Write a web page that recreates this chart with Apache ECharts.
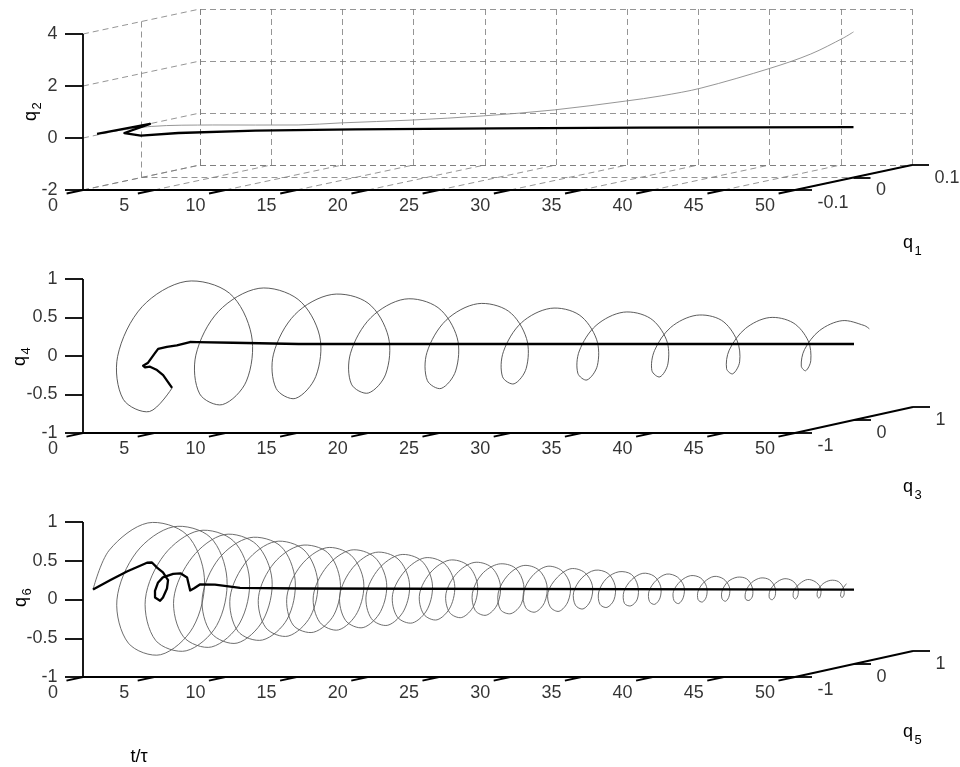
<!DOCTYPE html>
<html>
<head>
<meta charset="utf-8">
<script src="https://cdn.jsdelivr.net/npm/echarts@6/dist/echarts.min.js"></script>
<style>
html, body { margin: 0; background: #fff; }
#chart { width: 960px; height: 767px; }
</style>
</head>
<body>
<div id="chart"></div>
<script>
// tick values
const tTicks = [0, 5, 10, 15, 20, 25, 30, 35, 40, 45, 50];
const q1Ticks = [-0.1, 0, 0.1];
const q2Ticks = [-2, 0, 2, 4];
const q3Ticks = [-1, 0, 1];
const q4Ticks = [-1, -0.5, 0, 0.5, 1];
const q5Ticks = [-1, 0, 1];
const q6Ticks = [-1, -0.5, 0, 0.5, 1];

// curves, rows are [t, q_odd, q_even]
const q12Controlled = [
  [0, -0.076, 0.04], [0.6, 0, 0.06], [1.1, -0.056, -0.02], [1.6, -0.04, -0.2], [3, -0.01, -0.24],
  [8, 0, -0.2], [15, 0, -0.15], [25, 0, -0.11], [35, 0, -0.08], [50, 0, -0.06]
];
const q12Free = [
  [0, -0.076, 0.04], [1.5, -0.02, 0.06], [5, 0, 0.02], [11, 0, 0.02], [14, 0, 0.1], [19, 0, 0.21],
  [24, 0, 0.37], [29, 0, 0.6], [34, 0, 0.94], [36.5, 0, 1.14], [39.3, 0, 1.44], [44.2, 0, 2.21],
  [47, 0, 2.75], [49.3, 0, 3.37], [50, 0, 3.6]
];
const q34Controlled = [
  [0, 0.51, -0.67], [0.2, 0.31, -0.47], [0.35, 0.17, -0.38], [0.5, 0.015, -0.31], [0.6, -0.093, -0.3],
  [0.7, -0.15, -0.27], [0.8, -0.09, -0.24], [0.95, -0.01, -0.13], [1.05, 0.02, -0.08], [1.5, 0.06, -0.06],
  [2.2, 0.06, -0.04], [3.2, 0.04, 0.006], [3.8, 0.015, 0.01], [6.3, 0.02, 0], [11, 0, -0.013], [50, 0, -0.013]
];
const q34Free = [
  [0, 0.51, -0.67],
  [0.53, 0, -0.89], [1.17, -0.60, -0.63], [1.81, -0.85, -0.03], [2.45, -0.59, 0.57], [3.09, 0, 0.80], [3.73, 0.58, 0.55], [4.37, 0.80, -0.03], [5.01, 0.56, -0.59],
  [5.65, 0, -0.80], [6.29, -0.54, -0.57], [6.93, -0.76, -0.03], [7.57, -0.53, 0.50], [8.21, 0, 0.71], [8.85, 0.51, 0.48], [9.49, 0.72, -0.03], [10.13, 0.50, -0.52],
  [10.77, 0, -0.72], [11.41, -0.48, -0.51], [12.05, -0.68, -0.03], [12.69, -0.47, 0.45], [13.33, 0, 0.63], [13.97, 0.46, 0.44], [14.61, 0.65, -0.03], [15.25, 0.45, -0.48],
  [15.89, 0, -0.65], [16.53, -0.44, -0.46], [17.17, -0.61, -0.03], [17.81, -0.42, 0.40], [18.45, 0, 0.57], [19.09, 0.41, 0.39], [19.73, 0.58, -0.03], [20.37, 0.40, -0.43],
  [21.01, 0, -0.59], [21.65, -0.39, -0.42], [22.29, -0.55, -0.03], [22.93, -0.38, 0.36], [23.57, 0, 0.51], [24.21, 0.37, 0.35], [24.85, 0.52, -0.03], [25.49, 0.36, -0.39],
  [26.13, 0, -0.53], [26.77, -0.35, -0.38], [27.41, -0.49, -0.03], [28.05, -0.34, 0.32], [28.69, 0, 0.45], [29.33, 0.33, 0.31], [29.97, 0.47, -0.03], [30.61, 0.33, -0.35],
  [31.25, 0, -0.48], [31.89, -0.31, -0.34], [32.53, -0.44, -0.03], [33.17, -0.31, 0.28], [33.81, 0, 0.40], [34.45, 0.30, 0.27], [35.09, 0.42, -0.03], [35.73, 0.29, -0.32],
  [36.37, 0, -0.44], [37.01, -0.29, -0.31], [37.65, -0.40, -0.03], [38.29, -0.28, 0.25], [38.93, 0, 0.36], [39.57, 0.27, 0.25], [40.21, 0.38, -0.03], [40.85, 0.27, -0.29],
  [41.49, 0, -0.40], [42.13, -0.26, -0.29], [42.77, -0.37, -0.03], [43.41, -0.25, 0.23], [44.05, 0, 0.33], [44.69, 0.25, 0.22], [45.33, 0.35, -0.03], [45.97, 0.24, -0.27],
  [46.61, 0, -0.36], [47.25, -0.23, -0.26], [47.89, -0.33, -0.03], [48.53, -0.23, 0.20], [49.17, 0, 0.29], [49.81, 0.22, 0.19], [50, 0.26, 0.14]
];
const q56Controlled = [
  [0, -0.83, 0.1], [0.24, -0.6, 0.18], [0.6, -0.4, 0.26], [1.18, -0.2, 0.34], [1.32, -0.15, 0.335],
  [1.47, -0.1, 0.26], [1.68, -0.05, 0.19], [1.8, 0.007, 0.08], [1.9, -0.035, -0.02], [2.0, -0.127, -0.12],
  [2.1, -0.2, -0.15], [2.2, -0.31, -0.09], [2.3, -0.335, 0], [2.4, -0.31, 0.1], [2.5, -0.25, 0.16],
  [2.6, -0.1, 0.18], [2.7, 0, 0.17], [3.0, 0.04, 0.11], [3.3, 0.02, -0.055], [3.5, 0.04, -0.03],
  [3.9, 0.04, 0.02], [5, 0.03, 0.02], [6.8, 0.02, -0.02], [11.1, 0, -0.026], [50, 0, -0.04]
];
const q56Free = [
  [0, -0.83, 0.10],
  [0.19, -0.60, 0.57], [0.41, 0, 0.82], [0.64, 0.60, 0.57], [0.86, 0.85, -0.03], [1.09, 0.60, -0.63], [1.31, 0, -0.88], [1.53, -0.60, -0.63], [1.76, -0.85, -0.03],
  [1.98, -0.57, 0.54], [2.20, 0, 0.77], [2.43, 0.57, 0.54], [2.65, 0.80, -0.03], [2.88, 0.57, -0.60], [3.10, 0, -0.83], [3.32, -0.57, -0.60], [3.55, -0.80, -0.03],
  [3.77, -0.53, 0.50], [3.99, 0, 0.72], [4.22, 0.53, 0.50], [4.44, 0.75, -0.03], [4.67, 0.53, -0.56], [4.89, 0, -0.78], [5.11, -0.53, -0.56], [5.34, -0.75, -0.03],
  [5.56, -0.49, 0.46], [5.78, 0, 0.67], [6.01, 0.49, 0.46], [6.23, 0.70, -0.03], [6.46, 0.49, -0.52], [6.68, 0, -0.73], [6.90, -0.49, -0.52], [7.13, -0.70, -0.03],
  [7.35, -0.47, 0.44], [7.57, 0, 0.63], [7.80, 0.47, 0.44], [8.02, 0.66, -0.03], [8.25, 0.47, -0.50], [8.47, 0, -0.69], [8.69, -0.47, -0.50], [8.92, -0.66, -0.03],
  [9.14, -0.43, 0.40], [9.36, 0, 0.58], [9.59, 0.43, 0.40], [9.81, 0.61, -0.03], [10.04, 0.43, -0.46], [10.26, 0, -0.64], [10.48, -0.43, -0.46], [10.71, -0.61, -0.03],
  [10.93, -0.40, 0.37], [11.15, 0, 0.53], [11.38, 0.40, 0.37], [11.60, 0.56, -0.03], [11.83, 0.40, -0.43], [12.05, 0, -0.59], [12.27, -0.40, -0.43], [12.50, -0.56, -0.03],
  [12.72, -0.37, 0.34], [12.94, 0, 0.50], [13.15, 0.37, 0.34], [13.37, 0.53, -0.03], [13.58, 0.37, -0.40], [13.80, 0, -0.56], [14.02, -0.37, -0.40], [14.23, -0.53, -0.03],
  [14.45, -0.35, 0.32], [14.67, 0, 0.47], [14.88, 0.35, 0.32], [15.10, 0.50, -0.03], [15.31, 0.35, -0.38], [15.53, 0, -0.53], [15.75, -0.35, -0.38], [15.96, -0.50, -0.03],
  [16.18, -0.33, 0.30], [16.40, 0, 0.44], [16.61, 0.33, 0.30], [16.83, 0.47, -0.03], [17.04, 0.33, -0.36], [17.26, 0, -0.50], [17.48, -0.33, -0.36], [17.69, -0.47, -0.03],
  [17.91, -0.31, 0.28], [18.13, 0, 0.41], [18.34, 0.31, 0.28], [18.56, 0.44, -0.03], [18.77, 0.31, -0.34], [18.99, 0, -0.47], [19.21, -0.31, -0.34], [19.42, -0.44, -0.03],
  [19.64, -0.28, 0.25], [19.86, 0, 0.37], [20.07, 0.28, 0.25], [20.29, 0.40, -0.03], [20.50, 0.28, -0.31], [20.72, 0, -0.43], [20.94, -0.28, -0.31], [21.15, -0.40, -0.03],
  [21.37, -0.26, 0.23], [21.59, 0, 0.34], [21.80, 0.26, 0.23], [22.02, 0.37, -0.03], [22.23, 0.26, -0.29], [22.45, 0, -0.40], [22.67, -0.26, -0.29], [22.88, -0.37, -0.03],
  [23.10, -0.24, 0.21], [23.32, 0, 0.31], [23.53, 0.24, 0.21], [23.75, 0.34, -0.03], [23.96, 0.24, -0.27], [24.18, 0, -0.37], [24.40, -0.24, -0.27], [24.61, -0.34, -0.03],
  [24.83, -0.23, 0.20], [25.05, 0, 0.29], [25.26, 0.23, 0.20], [25.48, 0.32, -0.03], [25.69, 0.23, -0.26], [25.91, 0, -0.35], [26.13, -0.23, -0.26], [26.34, -0.32, -0.03],
  [26.56, -0.21, 0.18], [26.77, 0, 0.27], [26.98, 0.21, 0.18], [27.19, 0.30, -0.03], [27.40, 0.21, -0.24], [27.61, 0, -0.33], [27.82, -0.21, -0.24], [28.03, -0.30, -0.03],
  [28.24, -0.20, 0.17], [28.45, 0, 0.26], [28.66, 0.20, 0.17], [28.87, 0.29, -0.03], [29.08, 0.20, -0.23], [29.29, 0, -0.32], [29.50, -0.20, -0.23], [29.71, -0.29, -0.03],
  [29.92, -0.18, 0.15], [30.13, 0, 0.23], [30.34, 0.18, 0.15], [30.55, 0.26, -0.03], [30.76, 0.18, -0.21], [30.97, 0, -0.29], [31.18, -0.18, -0.21], [31.39, -0.26, -0.03],
  [31.60, -0.17, 0.14], [31.81, 0, 0.21], [32.02, 0.17, 0.14], [32.23, 0.24, -0.03], [32.44, 0.17, -0.20], [32.65, 0, -0.27], [32.86, -0.17, -0.20], [33.07, -0.24, -0.03],
  [33.28, -0.16, 0.13], [33.49, 0, 0.19], [33.70, 0.16, 0.13], [33.91, 0.22, -0.03], [34.12, 0.16, -0.19], [34.33, 0, -0.25], [34.54, -0.16, -0.19], [34.75, -0.22, -0.03],
  [34.96, -0.14, 0.11], [35.17, 0, 0.17], [35.38, 0.14, 0.11], [35.59, 0.20, -0.03], [35.80, 0.14, -0.17], [36.01, 0, -0.23], [36.22, -0.14, -0.17], [36.43, -0.20, -0.03],
  [36.64, -0.13, 0.10], [36.85, 0, 0.16], [37.06, 0.13, 0.10], [37.27, 0.19, -0.03], [37.48, 0.13, -0.16], [37.69, 0, -0.22], [37.90, -0.13, -0.16], [38.11, -0.19, -0.03],
  [38.32, -0.12, 0.09], [38.53, 0, 0.14], [38.73, 0.12, 0.09], [38.94, 0.17, -0.03], [39.14, 0.12, -0.15], [39.35, 0, -0.20], [39.55, -0.12, -0.15], [39.76, -0.17, -0.03],
  [39.96, -0.11, 0.08], [40.17, 0, 0.13], [40.37, 0.11, 0.08], [40.58, 0.16, -0.03], [40.78, 0.11, -0.14], [40.99, 0, -0.19], [41.19, -0.11, -0.14], [41.40, -0.16, -0.03],
  [41.60, -0.11, 0.08], [41.81, 0, 0.12], [42.01, 0.11, 0.08], [42.22, 0.15, -0.03], [42.42, 0.11, -0.14], [42.63, 0, -0.18], [42.83, -0.11, -0.14], [43.04, -0.15, -0.03],
  [43.24, -0.10, 0.07], [43.45, 0, 0.11], [43.65, 0.10, 0.07], [43.86, 0.14, -0.03], [44.06, 0.10, -0.13], [44.27, 0, -0.17], [44.47, -0.10, -0.13], [44.68, -0.14, -0.03],
  [44.88, -0.09, 0.06], [45.09, 0, 0.10], [45.29, 0.09, 0.06], [45.50, 0.13, -0.03], [45.70, 0.09, -0.12], [45.91, 0, -0.16], [46.11, -0.09, -0.12], [46.32, -0.13, -0.03],
  [46.52, -0.08, 0.05], [46.73, 0, 0.09], [46.93, 0.08, 0.05], [47.14, 0.12, -0.03], [47.34, 0.08, -0.11], [47.55, 0, -0.15], [47.75, -0.08, -0.11], [47.96, -0.12, -0.03],
  [48.16, -0.08, 0.05], [48.37, 0, 0.08], [48.57, 0.08, 0.05], [48.78, 0.11, -0.03], [48.98, 0.08, -0.11], [49.19, 0, -0.14], [49.39, -0.08, -0.11], [49.60, -0.11, -0.03],
  [49.80, -0.08, 0.05]
];

// layout of the three boxes (pixels); depth = screen shift of the depth axis
const panels = [
  { box: { left: 83, top: 34, width: 712, height: 156 }, depth: [117, 25], d: q1Ticks, z: q2Ticks,
    grid3d: true, thin: q12Free, thick: q12Controlled, thinColor: '#8a8a8a' },
  { box: { left: 83, top: 279, width: 712, height: 154 }, depth: [118, 26], d: q3Ticks, z: q4Ticks,
    grid3d: false, thin: q34Free, thick: q34Controlled, thinColor: '#4a4a4a' },
  { box: { left: 83, top: 522, width: 712, height: 155 }, depth: [118, 26], d: q5Ticks, z: q6Ticks,
    grid3d: false, thin: q56Free, thick: q56Controlled, thinColor: '#5e5e5e' }
];

const font = { fontFamily: 'Liberation Sans, Arial, sans-serif', fontSize: 18, color: '#000' };

const grid = [], xAxis = [], yAxis = [], series = [];

panels.forEach((p, i) => {
  const tMin = tTicks[0], tMax = tTicks[tTicks.length - 1];
  const dMin = p.d[0], dMax = p.d[p.d.length - 1];
  const zMin = p.z[0], zMax = p.z[p.z.length - 1];
  grid.push(Object.assign({}, p.box));
  xAxis.push({ gridIndex: i, type: 'value', min: tMin, max: tMax, show: false });
  yAxis.push({ gridIndex: i, type: 'value', min: zMin, max: zMax, show: false });

  const pxT = p.box.width / (tMax - tMin);
  const pxZ = p.box.height / (zMax - zMin);
  const dx = p.depth[0] / pxT, dz = p.depth[1] / pxZ;
  // oblique projection of (t, depth, height) into the 2d grid
  const P = (t, d, z) => {
    const f = (d - dMin) / (dMax - dMin);
    return [t + dx * f, z + dz * f];
  };

  const axisSegs = [];
  axisSegs.push([P(tMin, dMin, zMin), P(tMax, dMin, zMin)]);
  axisSegs.push([P(tMin, dMin, zMin), P(tMin, dMin, zMax)]);
  axisSegs.push([P(tMax, dMin, zMin), P(tMax, dMax, zMin)]);
  const tickD = 0.14 * (dMax - dMin);
  tTicks.forEach(t => axisSegs.push([P(t, dMin, zMin), P(t, dMin - tickD, zMin)]));
  p.z.forEach(z => axisSegs.push([P(tMin, dMin, z), P(tMin - 18 / pxT, dMin, z)]));
  p.d.forEach(d => axisSegs.push([P(tMax, d, zMin), P(tMax + 17 / pxT, d, zMin)]));

  if (p.grid3d) {
    const g = [];
    tTicks.forEach(t => {
      g.push([P(t, dMax, zMin), P(t, dMax, zMax)]);
      g.push([P(t, dMin, zMin), P(t, dMax, zMin)]);
    });
    p.z.forEach(z => {
      g.push([P(tMin, dMax, z), P(tMax, dMax, z)]);
      g.push([P(tMin, dMin, z), P(tMin, dMax, z)]);
    });
    p.d.slice(1).forEach(d => {
      g.push([P(tMin, d, zMin), P(tMin, d, zMax)]);
      g.push([P(tMin, d, zMin), P(tMax, d, zMin)]);
    });
    series.push({
      type: 'lines', coordinateSystem: 'cartesian2d', xAxisIndex: i, yAxisIndex: i,
      silent: true, clip: false, z: 1,
      lineStyle: { color: '#7a7a7a', width: 0.8, type: [6, 4], opacity: 1 },
      data: g.map(c => ({ coords: c }))
    });
  }

  series.push({
    type: 'lines', coordinateSystem: 'cartesian2d', xAxisIndex: i, yAxisIndex: i,
    silent: true, clip: false, z: 6,
    lineStyle: { color: '#000', width: 1.8, opacity: 1 },
    data: axisSegs.map(c => ({ coords: c }))
  });

  // curves go through the grid's own scale with api.coord
  const curve = (rows, color, width, smooth, z) => ({
    type: 'custom', coordinateSystem: 'cartesian2d', xAxisIndex: i, yAxisIndex: i,
    silent: true, clip: false, z: z,
    data: [[0, 0]],
    renderItem: (params, api) => ({
      type: 'polyline',
      shape: { points: rows.map(r => api.coord(P(r[0], r[1], r[2]))), smooth: smooth },
      style: { stroke: color, lineWidth: width, fill: null, lineJoin: 'round' }
    })
  });
  series.push(curve(p.thin, p.thinColor, 0.9, 0.33, 3));
  series.push(curve(p.thick, '#000', 2.3, 0, 4));

  const labelSeries = (data, label) => ({
    type: 'scatter', xAxisIndex: i, yAxisIndex: i, silent: true, clip: false, z: 7,
    symbolSize: 1, itemStyle: { color: 'rgba(0,0,0,0)' },
    data: data,
    label: Object.assign({ show: true, formatter: '{b}' }, font, label)
  });
  series.push(labelSeries(p.z.map(z => ({ name: String(z), value: P(tMin, dMin, z) })),
    { position: 'left', distance: 25 }));
  series.push(labelSeries(tTicks.map(t => ({ name: String(t), value: P(t, dMin, zMin) })),
    { position: 'inside', offset: [-30, 16] }));
  series.push(labelSeries(p.d.map(d => ({ name: String(d), value: P(tMax, d, zMin) })),
    { position: 'right', distance: 22, offset: [0, 13] }));
});

// axis titles
const titleFont = '18px "Liberation Sans", Arial, sans-serif';
const subFont = '13px "Liberation Sans", Arial, sans-serif';
const txt = (text, x, y, f, rot) => ({
  type: 'text', x: x, y: y, rotation: rot ? Math.PI / 2 : 0, silent: true,
  style: { text: text, font: f, fill: '#000', align: 'center', verticalAlign: 'middle' }
});
const graphic = [
  txt('q', 31, 116, titleFont, true), txt('2', 37, 106, subFont, true),
  txt('q', 20, 361, titleFont, true), txt('4', 26, 351, subFont, true),
  txt('q', 21, 602, titleFont, true), txt('6', 27, 592, subFont, true),
  txt('q', 908, 243, titleFont), txt('1', 918, 251, subFont),
  txt('q', 908, 487, titleFont), txt('3', 918, 495, subFont),
  txt('q', 908, 732, titleFont), txt('5', 918, 740, subFont),
  txt('t/τ', 139, 757, titleFont)
];

const chart = echarts.init(document.getElementById('chart'));
chart.setOption({
  animation: false,
  backgroundColor: '#fff',
  grid: grid,
  xAxis: xAxis,
  yAxis: yAxis,
  graphic: graphic,
  series: series
});
</script>
</body>
</html>
